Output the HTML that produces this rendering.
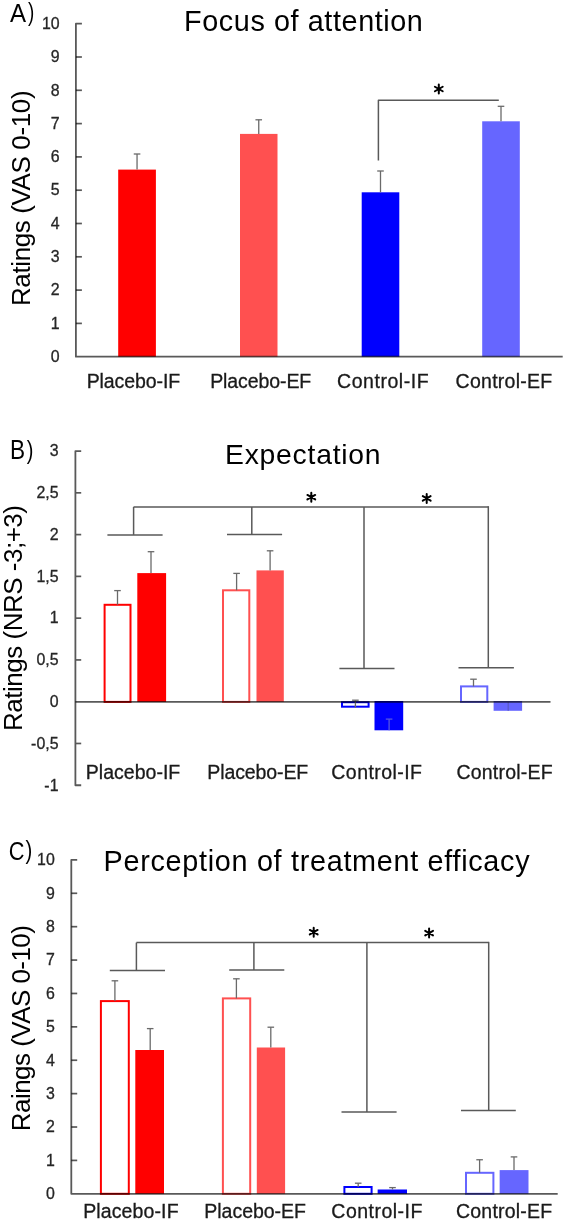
<!DOCTYPE html>
<html><head><meta charset="utf-8"><style>
html,body{margin:0;padding:0;background:#fff;width:566px;height:1221px;overflow:hidden}
svg{display:block}
text{font-family:"Liberation Sans",sans-serif}
</style></head><body>
<svg width="566" height="1221" viewBox="0 0 566 1221" font-family="Liberation Sans">
<rect x="0" y="0" width="566" height="1221" fill="#fff"/>
<text transform="translate(9.90,21.60) scale(0.2409,0.2667)" font-size="100" fill="#000">A</text>
<text transform="translate(28.11,20.89) scale(0.1885,0.2670)" font-size="100" fill="#000">)</text>
<text x="184.10" y="31.40" font-size="28.8" textLength="238.79" lengthAdjust="spacing" fill="#000">Focus of attention</text>
<text transform="translate(30.40,304.00) rotate(-90)" x="-2.08" y="0" font-size="26" textLength="215.67" lengthAdjust="spacing" fill="#000">Ratings (VAS 0-10)</text>
<text x="59.60" y="361.99" font-size="15.9" text-anchor="end" fill="#262626" stroke="#262626" stroke-width="0.3">0</text>
<line x1="75.9" y1="323.4" x2="81.9" y2="323.4" stroke="#595959" stroke-width="1.7"/>
<text x="59.60" y="328.69" font-size="15.9" text-anchor="end" fill="#262626" stroke="#262626" stroke-width="0.3">1</text>
<line x1="75.9" y1="290.1" x2="81.9" y2="290.1" stroke="#595959" stroke-width="1.7"/>
<text x="59.60" y="295.39" font-size="15.9" text-anchor="end" fill="#262626" stroke="#262626" stroke-width="0.3">2</text>
<line x1="75.9" y1="256.8" x2="81.9" y2="256.8" stroke="#595959" stroke-width="1.7"/>
<text x="59.60" y="262.09" font-size="15.9" text-anchor="end" fill="#262626" stroke="#262626" stroke-width="0.3">3</text>
<line x1="75.9" y1="223.5" x2="81.9" y2="223.5" stroke="#595959" stroke-width="1.7"/>
<text x="59.60" y="228.79" font-size="15.9" text-anchor="end" fill="#262626" stroke="#262626" stroke-width="0.3">4</text>
<line x1="75.9" y1="190.2" x2="81.9" y2="190.2" stroke="#595959" stroke-width="1.7"/>
<text x="59.60" y="195.49" font-size="15.9" text-anchor="end" fill="#262626" stroke="#262626" stroke-width="0.3">5</text>
<line x1="75.9" y1="156.9" x2="81.9" y2="156.9" stroke="#595959" stroke-width="1.7"/>
<text x="59.60" y="162.19" font-size="15.9" text-anchor="end" fill="#262626" stroke="#262626" stroke-width="0.3">6</text>
<line x1="75.9" y1="123.60000000000002" x2="81.9" y2="123.60000000000002" stroke="#595959" stroke-width="1.7"/>
<text x="59.60" y="128.89" font-size="15.9" text-anchor="end" fill="#262626" stroke="#262626" stroke-width="0.3">7</text>
<line x1="75.9" y1="90.30000000000001" x2="81.9" y2="90.30000000000001" stroke="#595959" stroke-width="1.7"/>
<text x="59.60" y="95.59" font-size="15.9" text-anchor="end" fill="#262626" stroke="#262626" stroke-width="0.3">8</text>
<line x1="75.9" y1="57.0" x2="81.9" y2="57.0" stroke="#595959" stroke-width="1.7"/>
<text x="59.60" y="62.29" font-size="15.9" text-anchor="end" fill="#262626" stroke="#262626" stroke-width="0.3">9</text>
<text x="59.60" y="28.99" font-size="15.9" text-anchor="end" fill="#262626" stroke="#262626" stroke-width="0.3">10</text>
<rect x="118.20" y="169.60" width="37.70" height="187.10" fill="#FF0000"/>
<line x1="137.05" y1="169.6" x2="137.05" y2="154.0" stroke="#6a6a6a" stroke-width="1.3"/>
<line x1="133.75" y1="154.0" x2="140.35000000000002" y2="154.0" stroke="#6a6a6a" stroke-width="1.3"/>
<rect x="240.00" y="133.90" width="37.50" height="222.80" fill="#FF5050"/>
<line x1="258.75" y1="133.9" x2="258.75" y2="119.8" stroke="#6a6a6a" stroke-width="1.3"/>
<line x1="255.45" y1="119.8" x2="262.05" y2="119.8" stroke="#6a6a6a" stroke-width="1.3"/>
<rect x="361.70" y="192.30" width="37.60" height="164.40" fill="#0000FF"/>
<line x1="380.5" y1="192.3" x2="380.5" y2="171.0" stroke="#6a6a6a" stroke-width="1.3"/>
<line x1="377.2" y1="171.0" x2="383.8" y2="171.0" stroke="#6a6a6a" stroke-width="1.3"/>
<rect x="482.20" y="121.30" width="37.60" height="235.40" fill="#6666FF"/>
<line x1="501.0" y1="121.3" x2="501.0" y2="106.3" stroke="#6a6a6a" stroke-width="1.3"/>
<line x1="497.7" y1="106.3" x2="504.3" y2="106.3" stroke="#6a6a6a" stroke-width="1.3"/>
<path d="M81.9,23.69999999999999 L75.9,23.69999999999999 L75.9,356.7 L562.7,356.7" fill="none" stroke="#595959" stroke-width="1.8" stroke-linejoin="round" style="mix-blend-mode:multiply"/>
<path d="M378.4,160.6 L378.4,100.3 L498.8,100.3" fill="none" stroke="#595959" stroke-width="1.5" stroke-linejoin="round"/>
<path d="M438.80,93.50L438.80,84.50M434.90,91.25L442.70,86.75M434.90,86.75L442.70,91.25" stroke="#000" stroke-width="2.0" stroke-linecap="round"/>
<circle cx="438.80" cy="89.00" r="1.5" fill="#000"/>
<text x="86.64" y="387.60" font-size="19.5" textLength="93.64" lengthAdjust="spacing" fill="#1a1a1a" stroke="#1a1a1a" stroke-width="0.3">Placebo-IF</text>
<text x="210.14" y="387.60" font-size="19.5" textLength="101.14" lengthAdjust="spacing" fill="#1a1a1a" stroke="#1a1a1a" stroke-width="0.3">Placebo-EF</text>
<text x="337.02" y="387.60" font-size="19.5" textLength="91.56" lengthAdjust="spacing" fill="#1a1a1a" stroke="#1a1a1a" stroke-width="0.3">Control-IF</text>
<text x="455.62" y="387.60" font-size="19.5" textLength="96.55" lengthAdjust="spacing" fill="#1a1a1a" stroke="#1a1a1a" stroke-width="0.3">Control-EF</text>
<text transform="translate(10.09,459.40) scale(0.2264,0.2681)" font-size="100" fill="#000">B</text>
<text transform="translate(26.80,458.63) scale(0.2000,0.2606)" font-size="100" fill="#000">)</text>
<text x="225.09" y="463.90" font-size="28.3" textLength="155.48" lengthAdjust="spacing" fill="#000">Expectation</text>
<text transform="translate(21.90,728.90) rotate(-90)" x="-2.08" y="0" font-size="26" textLength="225.97" lengthAdjust="spacing" fill="#000">Ratings (NRS -3;+3)</text>
<path d="M81.2,451.05000000000007 L75.4,451.05000000000007 L75.4,785.25 L81.2,785.25" fill="none" stroke="#595959" stroke-width="1.8" stroke-linejoin="round"/>
<text x="58.50" y="456.34" font-size="15.9" text-anchor="end" fill="#262626" stroke="#262626" stroke-width="0.3">3</text>
<line x1="75.4" y1="492.82500000000005" x2="81.2" y2="492.82500000000005" stroke="#595959" stroke-width="1.7"/>
<text x="58.50" y="498.11" font-size="15.9" text-anchor="end" fill="#262626" stroke="#262626" stroke-width="0.3">2,5</text>
<line x1="75.4" y1="534.6" x2="81.2" y2="534.6" stroke="#595959" stroke-width="1.7"/>
<text x="58.50" y="539.89" font-size="15.9" text-anchor="end" fill="#262626" stroke="#262626" stroke-width="0.3">2</text>
<line x1="75.4" y1="576.375" x2="81.2" y2="576.375" stroke="#595959" stroke-width="1.7"/>
<text x="58.50" y="581.66" font-size="15.9" text-anchor="end" fill="#262626" stroke="#262626" stroke-width="0.3">1,5</text>
<line x1="75.4" y1="618.1500000000001" x2="81.2" y2="618.1500000000001" stroke="#595959" stroke-width="1.7"/>
<text x="58.50" y="623.44" font-size="15.9" text-anchor="end" fill="#262626" stroke="#262626" stroke-width="0.3">1</text>
<line x1="75.4" y1="659.9250000000001" x2="81.2" y2="659.9250000000001" stroke="#595959" stroke-width="1.7"/>
<text x="58.50" y="665.21" font-size="15.9" text-anchor="end" fill="#262626" stroke="#262626" stroke-width="0.3">0,5</text>
<text x="58.50" y="706.99" font-size="15.9" text-anchor="end" fill="#262626" stroke="#262626" stroke-width="0.3">0</text>
<line x1="75.4" y1="743.475" x2="81.2" y2="743.475" stroke="#595959" stroke-width="1.7"/>
<text x="58.50" y="748.76" font-size="15.9" text-anchor="end" fill="#262626" stroke="#262626" stroke-width="0.3">-0,5</text>
<text x="58.50" y="790.54" font-size="15.9" text-anchor="end" fill="#262626" stroke="#262626" stroke-width="0.3">-1</text>
<rect x="104.60" y="604.80" width="25.90" height="97.10" fill="#fff" stroke="#FF0000" stroke-width="2"/>
<line x1="117.5" y1="604.8" x2="117.5" y2="590.6" stroke="#6a6a6a" stroke-width="1.3"/>
<line x1="114.2" y1="590.6" x2="120.8" y2="590.6" stroke="#6a6a6a" stroke-width="1.3"/>
<rect x="137.30" y="573.10" width="28.80" height="128.80" fill="#FF0000"/>
<line x1="151.0" y1="573.1" x2="151.0" y2="551.7" stroke="#6a6a6a" stroke-width="1.3"/>
<line x1="147.7" y1="551.7" x2="154.3" y2="551.7" stroke="#6a6a6a" stroke-width="1.3"/>
<rect x="223.00" y="590.30" width="26.30" height="111.60" fill="#fff" stroke="#FF5050" stroke-width="2"/>
<line x1="236.6" y1="590.3" x2="236.6" y2="573.4" stroke="#6a6a6a" stroke-width="1.3"/>
<line x1="233.29999999999998" y1="573.4" x2="239.9" y2="573.4" stroke="#6a6a6a" stroke-width="1.3"/>
<rect x="256.50" y="570.40" width="27.30" height="131.50" fill="#FF5050"/>
<line x1="270.1" y1="570.4" x2="270.1" y2="550.8" stroke="#6a6a6a" stroke-width="1.3"/>
<line x1="266.8" y1="550.8" x2="273.40000000000003" y2="550.8" stroke="#6a6a6a" stroke-width="1.3"/>
<rect x="342.00" y="702.20" width="26.60" height="4.50" fill="#fff" stroke="#0000FF" stroke-width="2"/>
<line x1="355.4" y1="707.7" x2="355.4" y2="700.2" stroke="#6a6a6a" stroke-width="1.3"/>
<line x1="352.09999999999997" y1="700.2" x2="358.7" y2="700.2" stroke="#6a6a6a" stroke-width="1.3"/>
<rect x="374.50" y="701.00" width="28.70" height="29.30" fill="#0000FF"/>
<line x1="389.1" y1="730.3" x2="389.1" y2="719.1" stroke="#5555e0" stroke-width="1.3"/>
<line x1="385.8" y1="719.1" x2="392.40000000000003" y2="719.1" stroke="#5555e0" stroke-width="1.3"/>
<rect x="461.00" y="686.40" width="26.30" height="15.50" fill="#fff" stroke="#6666FF" stroke-width="2"/>
<line x1="473.5" y1="686.4" x2="473.5" y2="679.2" stroke="#6a6a6a" stroke-width="1.3"/>
<line x1="470.2" y1="679.2" x2="476.8" y2="679.2" stroke="#6a6a6a" stroke-width="1.3"/>
<rect x="493.60" y="701.00" width="28.50" height="9.80" fill="#6666FF"/>
<line x1="508.2" y1="710.8" x2="508.2" y2="701.9" stroke="#5a5ac8" stroke-width="1.3"/>
<line x1="75.4" y1="701.9" x2="550.5" y2="701.9" stroke="#595959" stroke-width="1.8" style="mix-blend-mode:multiply"/>
<line x1="133.6" y1="506.9" x2="488.3" y2="506.9" stroke="#595959" stroke-width="1.5"/>
<line x1="107.4" y1="534.9" x2="162.6" y2="534.9" stroke="#595959" stroke-width="1.5"/>
<line x1="133.6" y1="534.9" x2="133.6" y2="506.9" stroke="#595959" stroke-width="1.5"/>
<line x1="227.0" y1="534.5" x2="282.1" y2="534.5" stroke="#595959" stroke-width="1.5"/>
<line x1="251.8" y1="534.5" x2="251.8" y2="506.9" stroke="#595959" stroke-width="1.5"/>
<line x1="339.4" y1="668.5" x2="394.5" y2="668.5" stroke="#595959" stroke-width="1.5"/>
<line x1="364.0" y1="668.5" x2="364.0" y2="506.9" stroke="#595959" stroke-width="1.5"/>
<line x1="458.5" y1="667.8" x2="513.9" y2="667.8" stroke="#595959" stroke-width="1.5"/>
<line x1="488.3" y1="667.8" x2="488.3" y2="506.15" stroke="#595959" stroke-width="1.5"/>
<path d="M311.30,501.70L311.30,492.70M307.40,499.45L315.20,494.95M307.40,494.95L315.20,499.45" stroke="#000" stroke-width="2.0" stroke-linecap="round"/>
<circle cx="311.30" cy="497.20" r="1.5" fill="#000"/>
<path d="M426.70,502.90L426.70,493.90M422.80,500.65L430.60,496.15M422.80,496.15L430.60,500.65" stroke="#000" stroke-width="2.0" stroke-linecap="round"/>
<circle cx="426.70" cy="498.40" r="1.5" fill="#000"/>
<text x="85.84" y="779.20" font-size="19.5" textLength="94.44" lengthAdjust="spacing" fill="#1a1a1a" stroke="#1a1a1a" stroke-width="0.3">Placebo-IF</text>
<text x="207.34" y="779.20" font-size="19.5" textLength="100.94" lengthAdjust="spacing" fill="#1a1a1a" stroke="#1a1a1a" stroke-width="0.3">Placebo-EF</text>
<text x="331.32" y="779.20" font-size="19.5" textLength="90.66" lengthAdjust="spacing" fill="#1a1a1a" stroke="#1a1a1a" stroke-width="0.3">Control-IF</text>
<text x="456.42" y="779.20" font-size="19.5" textLength="96.15" lengthAdjust="spacing" fill="#1a1a1a" stroke="#1a1a1a" stroke-width="0.3">Control-EF</text>
<text transform="translate(8.81,859.54) scale(0.2175,0.2606)" font-size="100" fill="#000">C</text>
<text transform="translate(25.50,859.26) scale(0.2038,0.2638)" font-size="100" fill="#000">)</text>
<text x="103.60" y="870.60" font-size="28.8" textLength="425.95" lengthAdjust="spacing" fill="#000">Perception of treatment efficacy</text>
<text transform="translate(30.40,1129.10) rotate(-90)" x="-2.08" y="0" font-size="26" textLength="206.12" lengthAdjust="spacing" fill="#000">Raings (VAS 0-10)</text>
<text x="54.80" y="1199.09" font-size="15.9" text-anchor="end" fill="#262626" stroke="#262626" stroke-width="0.3">0</text>
<line x1="71.3" y1="1160.4099999999999" x2="77.2" y2="1160.4099999999999" stroke="#595959" stroke-width="1.7"/>
<text x="54.80" y="1165.70" font-size="15.9" text-anchor="end" fill="#262626" stroke="#262626" stroke-width="0.3">1</text>
<line x1="71.3" y1="1127.02" x2="77.2" y2="1127.02" stroke="#595959" stroke-width="1.7"/>
<text x="54.80" y="1132.31" font-size="15.9" text-anchor="end" fill="#262626" stroke="#262626" stroke-width="0.3">2</text>
<line x1="71.3" y1="1093.6299999999999" x2="77.2" y2="1093.6299999999999" stroke="#595959" stroke-width="1.7"/>
<text x="54.80" y="1098.92" font-size="15.9" text-anchor="end" fill="#262626" stroke="#262626" stroke-width="0.3">3</text>
<line x1="71.3" y1="1060.24" x2="77.2" y2="1060.24" stroke="#595959" stroke-width="1.7"/>
<text x="54.80" y="1065.53" font-size="15.9" text-anchor="end" fill="#262626" stroke="#262626" stroke-width="0.3">4</text>
<line x1="71.3" y1="1026.85" x2="77.2" y2="1026.85" stroke="#595959" stroke-width="1.7"/>
<text x="54.80" y="1032.14" font-size="15.9" text-anchor="end" fill="#262626" stroke="#262626" stroke-width="0.3">5</text>
<line x1="71.3" y1="993.4599999999999" x2="77.2" y2="993.4599999999999" stroke="#595959" stroke-width="1.7"/>
<text x="54.80" y="998.75" font-size="15.9" text-anchor="end" fill="#262626" stroke="#262626" stroke-width="0.3">6</text>
<line x1="71.3" y1="960.0699999999999" x2="77.2" y2="960.0699999999999" stroke="#595959" stroke-width="1.7"/>
<text x="54.80" y="965.36" font-size="15.9" text-anchor="end" fill="#262626" stroke="#262626" stroke-width="0.3">7</text>
<line x1="71.3" y1="926.68" x2="77.2" y2="926.68" stroke="#595959" stroke-width="1.7"/>
<text x="54.80" y="931.97" font-size="15.9" text-anchor="end" fill="#262626" stroke="#262626" stroke-width="0.3">8</text>
<line x1="71.3" y1="893.29" x2="77.2" y2="893.29" stroke="#595959" stroke-width="1.7"/>
<text x="54.80" y="898.58" font-size="15.9" text-anchor="end" fill="#262626" stroke="#262626" stroke-width="0.3">9</text>
<text x="54.80" y="865.19" font-size="15.9" text-anchor="end" fill="#262626" stroke="#262626" stroke-width="0.3">10</text>
<rect x="100.90" y="1001.10" width="27.90" height="192.70" fill="#fff" stroke="#FF0000" stroke-width="2"/>
<line x1="114.9" y1="1001.1" x2="114.9" y2="980.8" stroke="#6a6a6a" stroke-width="1.3"/>
<line x1="111.60000000000001" y1="980.8" x2="118.2" y2="980.8" stroke="#6a6a6a" stroke-width="1.3"/>
<rect x="135.30" y="1050.00" width="28.70" height="143.80" fill="#FF0000"/>
<line x1="150.2" y1="1050.0" x2="150.2" y2="1028.6" stroke="#6a6a6a" stroke-width="1.3"/>
<line x1="146.89999999999998" y1="1028.6" x2="153.5" y2="1028.6" stroke="#6a6a6a" stroke-width="1.3"/>
<rect x="222.90" y="998.40" width="27.30" height="195.40" fill="#fff" stroke="#FF5050" stroke-width="2"/>
<line x1="236.4" y1="998.4" x2="236.4" y2="978.8" stroke="#6a6a6a" stroke-width="1.3"/>
<line x1="233.1" y1="978.8" x2="239.70000000000002" y2="978.8" stroke="#6a6a6a" stroke-width="1.3"/>
<rect x="256.80" y="1047.50" width="28.30" height="146.30" fill="#FF5050"/>
<line x1="270.8" y1="1047.5" x2="270.8" y2="1027.2" stroke="#6a6a6a" stroke-width="1.3"/>
<line x1="267.5" y1="1027.2" x2="274.1" y2="1027.2" stroke="#6a6a6a" stroke-width="1.3"/>
<rect x="344.40" y="1187.00" width="27.20" height="6.80" fill="#fff" stroke="#0000FF" stroke-width="2"/>
<line x1="358.2" y1="1187.0" x2="358.2" y2="1183.2" stroke="#6a6a6a" stroke-width="1.3"/>
<line x1="354.9" y1="1183.2" x2="361.5" y2="1183.2" stroke="#6a6a6a" stroke-width="1.3"/>
<rect x="377.65" y="1189.50" width="29.35" height="4.30" fill="#0000FF"/>
<line x1="392.5" y1="1189.5" x2="392.5" y2="1187.6" stroke="#6a6a6a" stroke-width="1.3"/>
<line x1="389.2" y1="1187.6" x2="395.8" y2="1187.6" stroke="#6a6a6a" stroke-width="1.3"/>
<rect x="466.00" y="1172.80" width="27.40" height="21.00" fill="#fff" stroke="#6666FF" stroke-width="2"/>
<line x1="479.6" y1="1172.8" x2="479.6" y2="1159.75" stroke="#6a6a6a" stroke-width="1.3"/>
<line x1="476.3" y1="1159.75" x2="482.90000000000003" y2="1159.75" stroke="#6a6a6a" stroke-width="1.3"/>
<rect x="499.65" y="1170.10" width="28.85" height="23.70" fill="#6666FF"/>
<line x1="514.0" y1="1170.1" x2="514.0" y2="1156.9" stroke="#6a6a6a" stroke-width="1.3"/>
<line x1="510.7" y1="1156.9" x2="517.3" y2="1156.9" stroke="#6a6a6a" stroke-width="1.3"/>
<path d="M77.2,859.9 L71.3,859.9 L71.3,1193.8 L557.7,1193.8" fill="none" stroke="#595959" stroke-width="1.8" stroke-linejoin="round" style="mix-blend-mode:multiply"/>
<line x1="136.4" y1="942.6" x2="488.7" y2="942.6" stroke="#595959" stroke-width="1.5"/>
<line x1="109.8" y1="970.5" x2="165.0" y2="970.5" stroke="#595959" stroke-width="1.5"/>
<line x1="136.4" y1="970.5" x2="136.4" y2="942.6" stroke="#595959" stroke-width="1.5"/>
<line x1="229.2" y1="970.0" x2="284.3" y2="970.0" stroke="#595959" stroke-width="1.5"/>
<line x1="253.9" y1="970.0" x2="253.9" y2="942.6" stroke="#595959" stroke-width="1.5"/>
<line x1="341.5" y1="1111.9" x2="396.6" y2="1111.9" stroke="#595959" stroke-width="1.5"/>
<line x1="366.9" y1="1111.9" x2="366.9" y2="942.6" stroke="#595959" stroke-width="1.5"/>
<line x1="461.0" y1="1110.6" x2="515.8" y2="1110.6" stroke="#595959" stroke-width="1.5"/>
<line x1="488.7" y1="1110.6" x2="488.7" y2="941.85" stroke="#595959" stroke-width="1.5"/>
<path d="M313.70,936.70L313.70,927.70M309.80,934.45L317.60,929.95M309.80,929.95L317.60,934.45" stroke="#000" stroke-width="2.0" stroke-linecap="round"/>
<circle cx="313.70" cy="932.20" r="1.5" fill="#000"/>
<path d="M429.10,937.60L429.10,928.60M425.20,935.35L433.00,930.85M425.20,930.85L433.00,935.35" stroke="#000" stroke-width="2.0" stroke-linecap="round"/>
<circle cx="429.10" cy="933.10" r="1.5" fill="#000"/>
<text x="83.14" y="1217.80" font-size="19.5" textLength="95.44" lengthAdjust="spacing" fill="#1a1a1a" stroke="#1a1a1a" stroke-width="0.3">Placebo-IF</text>
<text x="204.34" y="1217.80" font-size="19.5" textLength="101.64" lengthAdjust="spacing" fill="#1a1a1a" stroke="#1a1a1a" stroke-width="0.3">Placebo-EF</text>
<text x="331.32" y="1217.80" font-size="19.5" textLength="91.06" lengthAdjust="spacing" fill="#1a1a1a" stroke="#1a1a1a" stroke-width="0.3">Control-IF</text>
<text x="456.02" y="1217.80" font-size="19.5" textLength="96.05" lengthAdjust="spacing" fill="#1a1a1a" stroke="#1a1a1a" stroke-width="0.3">Control-EF</text>
</svg>
</body></html>
